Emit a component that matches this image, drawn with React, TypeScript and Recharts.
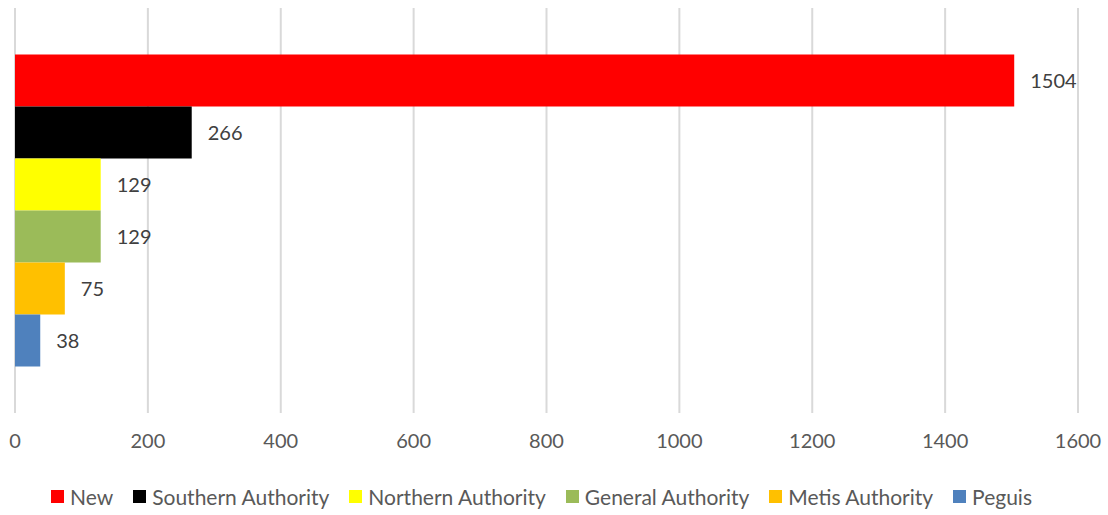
import React from "react";
import { BarChart, Bar, XAxis, YAxis, CartesianGrid, Legend, LabelList } from "recharts";

const seriesNames = ["New", "Southern Authority", "Northern Authority", "General Authority", "Metis Authority", "Peguis"];
const seriesValues = [1504, 266, 129, 129, 75, 38];
const seriesColors = ["#ff0000", "#000000", "#ffff00", "#9bbb59", "#ffc000", "#4f81bd"];
const xTicks = [0, 200, 400, 600, 800, 1000, 1200, 1400, 1600];

const row: Record<string, string | number> = { name: "" };
seriesNames.forEach((n, i) => {
  row[n] = seriesValues[i];
});
const data = [row];

const FONT = "Lato, Carlito, Calibri, sans-serif";

function LegendContent(props: any) {
  const items = [...(props.payload ?? [])].sort(
    (a: any, b: any) => seriesNames.indexOf(a.value) - seriesNames.indexOf(b.value)
  );
  return (
    <div
      style={{
        display: "flex",
        justifyContent: "center",
        alignItems: "center",
        height: 42,
        boxSizing: "border-box",
        paddingTop: 4,
        paddingRight: 10,
        fontFamily: FONT,
        fontSize: 21,
        color: "#595959",
      }}
    >
      {items.map((it: any, i: number) => (
        <div
          key={it.value}
          style={{ display: "flex", alignItems: "center", marginRight: i === items.length - 1 ? 0 : 20 }}
        >
          <span style={{ width: 13, height: 13, background: it.color, display: "inline-block", marginRight: 6 }} />
          <span>{it.value}</span>
        </div>
      ))}
    </div>
  );
}

export default function App() {
  return (
    <div style={{ position: "absolute", left: 0, top: 0, width: 1108, height: 515, background: "#fff" }}>
      <BarChart
        width={1108}
        height={515}
        data={data}
        layout="vertical"
        margin={{ top: 8, right: 30, left: 15, bottom: 0 }}
        barCategoryGap="11.5%"
        barGap={0}
      >
        <CartesianGrid horizontal={false} stroke="#d9d9d9" strokeWidth={2} />
        <XAxis
          type="number"
          domain={[0, 1600]}
          ticks={xTicks}
          axisLine={false}
          tickLine={false}
          height={60}
          tickMargin={15}
          tick={{ fontSize: 20, fill: "#595959", fontFamily: FONT }}
          interval={0}
        />
        <YAxis type="category" dataKey="name" hide />
        <Legend verticalAlign="bottom" height={42} content={LegendContent} />
        {seriesNames.map((n, i) => (
          <Bar key={n} dataKey={n} fill={seriesColors[i]} isAnimationActive={false}>
            <LabelList
              dataKey={n}
              position="right"
              offset={16}
              fill="#404040"
              fontSize={20}
              fontFamily={FONT}
            />
          </Bar>
        ))}
      </BarChart>
    </div>
  );
}
